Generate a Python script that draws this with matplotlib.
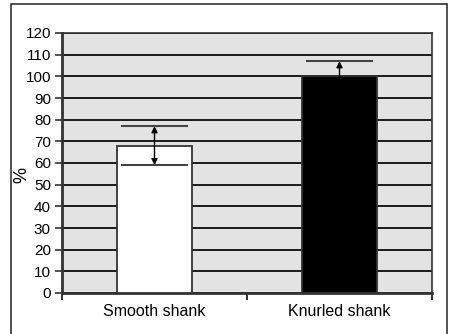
import matplotlib
matplotlib.use("Agg")
import matplotlib.pyplot as plt
from matplotlib.patches import Rectangle

categories = ["Smooth shank", "Knurled shank"]
values = [68, 100]
errors = [9, 7]
bar_colors = ["white", "black"]
y_ticks = list(range(0, 121, 10))

plt.rcParams['font.family'] = ['Liberation Sans', 'DejaVu Sans']

fig = plt.figure(figsize=(4.5, 3.34), dpi=100)
fig.patch.set_facecolor('white')
# outer frame
fig.patches.append(Rectangle((11/450, -0.1), (447-11)/450, 1.1 - 4/334,
                             transform=fig.transFigure, fill=False,
                             edgecolor='#222222', linewidth=1.1))

ax = fig.add_axes([62/450, 1-293/334, (432-62)/450, (293-33)/334])
ax.set_facecolor('#e3e3e3')

x = list(range(len(categories)))
ax.bar(x, values, width=0.41, color=bar_colors, edgecolor='#333333', linewidth=1.3, zorder=3)

for xi, v, e, c in zip(x, values, errors, bar_colors):
    capw = 0.35
    ax.plot([xi - capw/2, xi + capw/2], [v + e, v + e], color='#444444', lw=1.5, zorder=4)
    ax.plot([xi - capw/2, xi + capw/2], [v - e, v - e], color='#444444', lw=1.5,
            zorder=3.5 if c == 'white' else 2.5)
    ax.annotate('', xy=(xi, v + e), xytext=(xi, v - e),
                arrowprops=dict(arrowstyle='<|-|>', mutation_scale=9, color='black',
                                lw=1.0, shrinkA=0, shrinkB=0), zorder=5)

ax.set_ylim(0, 120)
ax.set_xlim(-0.5, 1.5)
ax.set_yticks(y_ticks)
ax.yaxis.grid(True, color='#1a1a1a', linewidth=1.4, zorder=1)
ax.set_axisbelow(True)
ax.tick_params(axis='y', labelsize=11, length=5, width=1.2, color='#333333', pad=3)

ax.set_xticks([-0.5, 0.5, 1.5])
ax.set_xticklabels([])
ax.set_xticks(x, minor=True)
ax.set_xticklabels(categories, minor=True)
ax.tick_params(axis='x', which='major', length=5, width=1.4, color='#333333')
ax.tick_params(axis='x', which='minor', length=0, labelsize=11.5, pad=8)

for s in ['left', 'bottom']:
    ax.spines[s].set_color('#333333')
    ax.spines[s].set_linewidth(2.0)
for s in ['right', 'top']:
    ax.spines[s].set_color('#333333')
    ax.spines[s].set_linewidth(1.2)

fig.text(22/450, 1-175/334, '%', rotation=90, fontsize=13, ha='center', va='center')

fig.savefig('out.png', dpi=100)
